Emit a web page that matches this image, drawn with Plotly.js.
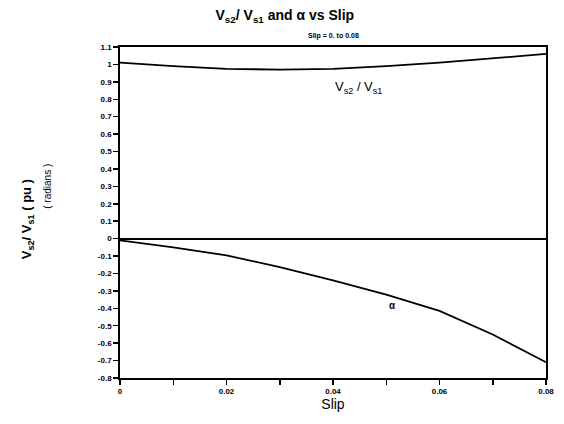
<!DOCTYPE html>
<html>
<head>
<meta charset="utf-8">
<script src="https://cdn.plot.ly/plotly-3.0.1.min.js"></script>
<style>
  html, body { margin: 0; padding: 0; background: #fff; }
  #chart { width: 564px; height: 424px; }
</style>
</head>
<body>
<div id="chart"></div>
<script>
// Slip values (pu)
const slip = [0, 0.01, 0.02, 0.03, 0.04, 0.05, 0.06, 0.07, 0.08];
// Voltage ratio Vs2/Vs1 (pu)
const voltageRatio = [1.01, 0.99, 0.975, 0.97, 0.975, 0.99, 1.01, 1.035, 1.06];
// Angle alpha (radians)
const alpha = [-0.01, -0.05, -0.096, -0.163, -0.24, -0.322, -0.415, -0.55, -0.71];

// Axis tick positions and labels
const xTickVals = [0, 0.02, 0.04, 0.06, 0.08];
const xTickText = ['0', '0.02', '0.04', '0.06', '0.08'];
const yTickVals = [1.1, 1, 0.9, 0.8, 0.7, 0.6, 0.5, 0.4, 0.3, 0.2, 0.1, 0,
                   -0.1, -0.2, -0.3, -0.4, -0.5, -0.6, -0.7, -0.8];
const yTickText = ['1.1', '1', '0.9', '0.8', '0.7', '0.6', '0.5', '0.4', '0.3', '0.2', '0.1', '0',
                   '-0.1', '-0.2', '-0.3', '-0.4', '-0.5', '-0.6', '-0.7', '-0.8'];

const FONT = 'Liberation Sans, Arial, sans-serif';
const lineStyle = { color: '#000', width: 1.8 };

const traces = [
  { x: slip, y: voltageRatio, mode: 'lines', line: lineStyle, hoverinfo: 'skip' },
  { x: slip, y: alpha, mode: 'lines', line: lineStyle, hoverinfo: 'skip' }
];

const layout = {
  width: 564,
  height: 424,
  margin: { l: 120, r: 18, t: 47, b: 46 },
  paper_bgcolor: '#fff',
  plot_bgcolor: '#fff',
  showlegend: false,
  font: { family: FONT, color: '#000' },
  title: {
    text: 'V<sub>s2</sub>/ V<sub>s1</sub> and \u03b1 vs Slip',
    font: { family: FONT, size: 14, weight: 'bold', color: '#000' },
    x: 0.505, xanchor: 'center', y: 0.975, yanchor: 'top'
  },
  xaxis: {
    range: [0, 0.08],
    tickvals: xTickVals,
    ticktext: xTickText,
    ticks: 'outside', ticklen: 5, tickwidth: 1.5, tickcolor: '#000',
    minor: { dtick: 0.01, tick0: 0, ticks: 'outside', ticklen: 5, tickwidth: 1.5, tickcolor: '#000', showgrid: false },
    tickfont: { family: FONT, size: 8, weight: 'bold', color: '#000' },
    showline: true, linewidth: 1.8, linecolor: '#000', mirror: true,
    showgrid: false, zeroline: false,
    title: { text: 'Slip', font: { family: FONT, size: 14, color: '#000' }, standoff: 4 }
  },
  yaxis: {
    range: [-0.8, 1.1],
    tickvals: yTickVals,
    ticktext: yTickText,
    ticks: 'outside', ticklen: 5, tickwidth: 1.5, tickcolor: '#000',
    tickfont: { family: FONT, size: 8, weight: 'bold', color: '#000' },
    showline: true, linewidth: 1.8, linecolor: '#000', mirror: true,
    showgrid: false,
    zeroline: true, zerolinecolor: '#000', zerolinewidth: 1.8,
    title: { text: '' }
  },
  annotations: [
    {
      text: '<b>Slip = 0. to 0.08</b>',
      xref: 'paper', yref: 'paper', x: 0.5, y: 1.015, xanchor: 'center', yanchor: 'bottom',
      showarrow: false, font: { family: FONT, size: 7, color: '#000' }
    },
    {
      text: 'V<sub>s2</sub> / V<sub>s1</sub>',
      xref: 'x', yref: 'y', x: 0.0448, y: 0.87,
      showarrow: false, font: { family: FONT, size: 13, color: '#000' }
    },
    {
      text: '\u03b1',
      xref: 'x', yref: 'y', x: 0.0512, y: -0.385,
      showarrow: false, font: { family: FONT, size: 10, weight: 'bold', color: '#000' }
    },
    {
      text: 'V<sub>s2</sub>/ V<sub>s1</sub> ( pu )',
      xref: 'paper', yref: 'paper', x: -0.218, y: 0.48,
      xanchor: 'center', yanchor: 'middle', textangle: -90,
      showarrow: false, font: { family: FONT, size: 13, weight: 'bold', color: '#000' }
    },
    {
      text: '( radians )',
      xref: 'paper', yref: 'paper', x: -0.172, y: 0.58,
      xanchor: 'center', yanchor: 'middle', textangle: -90,
      showarrow: false, font: { family: FONT, size: 10, color: '#000' }
    }
  ]
};

Plotly.newPlot('chart', traces, layout, { staticPlot: true, displayModeBar: false });
</script>
</body>
</html>
